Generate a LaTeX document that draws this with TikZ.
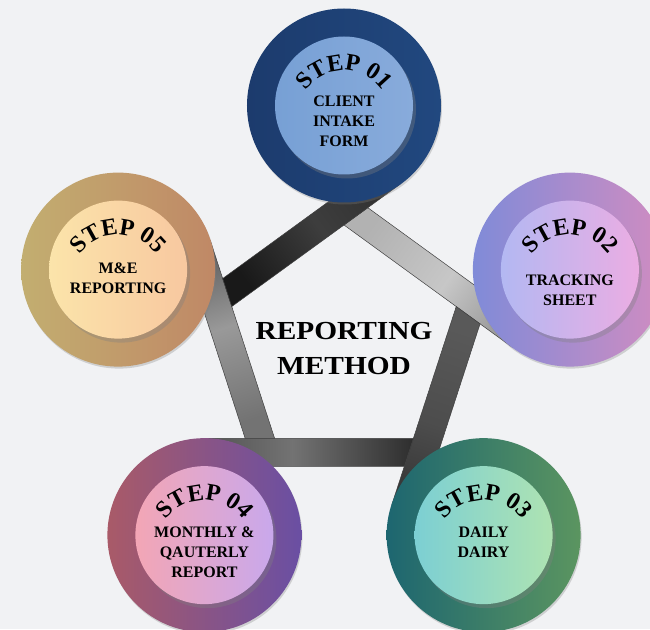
\documentclass[tikz,border=0pt]{standalone}
\usepackage{fontspec}
\setmainfont{Liberation Serif}
\newfontfamily\centerfont{Liberation Serif}[FakeStretch=1.13]
\usetikzlibrary{calc,shadows,decorations.text}

\definecolor{bgpaper}{HTML}{F1F2F4}
\definecolor{oneL}{HTML}{1C3B6D}\definecolor{oneR}{HTML}{21487F}
\definecolor{oneinL}{HTML}{77A0D5}\definecolor{oneinR}{HTML}{88ABDB}
\definecolor{twoL}{HTML}{808BD8}\definecolor{twoR}{HTML}{D18CC1}
\definecolor{twoinL}{HTML}{B3B8F2}\definecolor{twoinR}{HTML}{EBADE3}
\definecolor{threeL}{HTML}{1D6670}\definecolor{threeR}{HTML}{5B9560}
\definecolor{threeinL}{HTML}{7CCFD3}\definecolor{threeinR}{HTML}{AEE3B2}
\definecolor{fourL}{HTML}{A95A68}\definecolor{fourR}{HTML}{6A4FA3}
\definecolor{fourinL}{HTML}{F3A6B5}\definecolor{fourinR}{HTML}{C9A8EC}
\definecolor{fiveL}{HTML}{C2AE70}\definecolor{fiveR}{HTML}{C08866}
\definecolor{fiveinL}{HTML}{FBE4AA}\definecolor{fiveinR}{HTML}{F8C8A0}

\newcommand{\stepfont}{\bfseries\fontsize{24}{24}\selectfont}

\tikzset{%
  % Specifications for style of nodes:
         disc/.style = {circle, minimum size=194pt, inner sep=0pt, drop shadow={shadow xshift=1pt, shadow yshift=-2pt, opacity=0.3}},
         core/.style = {circle, minimum size=138pt, inner sep=0pt, drop shadow={shadow xshift=3pt, shadow yshift=-4pt, opacity=0.35}},
     tasktext/.style = {align=center, font=\bfseries\fontsize{16}{20}\selectfont},
         band/.style = {draw=black!75, line width=0.5pt},
}

\begin{document}
\begin{tikzpicture}[x=1pt, y=1pt]
    \fill[bgpaper] (-344,-286) rectangle (306,343);
    \useasboundingbox (-344,-286) rectangle (306,343);

    % Corners of the frame
    \foreach \k/\a in {1/90, 2/18, 3/-54, 4/-126, 5/162} {
        \coordinate (I\k) at (\a:118);
        \coordinate (O\k) at (\a:152.6);
    }

    % Draw bands
    \foreach \k/\n/\p/\ang/\ca/\cc/\cb in {1/2/5/54/black!30/black!45/black!22,
                                          2/3/1/-18/black!65/black!82/black!70,
                                          3/4/2/-90/black!82/black!72/black!55,
                                          4/5/3/-162/black!55/black!68/black!40,
                                          5/1/4/126/black!90/black!82/black!76} {
        \path[band, top color=\ca, bottom color=\cc, middle color=\cb, shading angle=\ang]
            (I\k) -- ($(I\p)!1.2122!(I\k)$) -- ($(O\k)!1.46!(O\n)$) -- ($(I\k)!1.5!(I\n)$) -- cycle;
    }

    % Draw nodes
    \node (c1) [disc, left color=oneL, right color=oneR]       at (90:237.5)   {};
    \node (c2) [disc, left color=twoL, right color=twoR]       at (18:237.5)   {};
    \node (c3) [disc, left color=threeL, right color=threeR]   at (-54:237.5)  {};
    \node (c4) [disc, left color=fourL, right color=fourR]     at (-126:237.5) {};
    \node (c5) [disc, left color=fiveL, right color=fiveR]     at (162:237.5)  {};

    \node (k1) [core, left color=oneinL, right color=oneinR]     at (c1) {};
    \node (k2) [core, left color=twoinL, right color=twoinR]     at (c2) {};
    \node (k3) [core, left color=threeinL, right color=threeinR] at (c3) {};
    \node (k4) [core, left color=fourinL, right color=fourinR]   at (c4) {};
    \node (k5) [core, left color=fiveinL, right color=fiveinR]   at (c5) {};

    \node (t1) [tasktext] at ([yshift=-16]k1) {CLIENT\\INTAKE\\FORM};
    \node (t2) [tasktext] at ([yshift=-21]k2) {TRACKING\\SHEET};
    \node (t3) [tasktext] at ([yshift=-7]k3)  {DAILY\\DAIRY};
    \node (t4) [tasktext] at ([yshift=-17]k4) {MONTHLY \&\\QAUTERLY\\REPORT};
    \node (t5) [tasktext] at ([yshift=-9]k5)  {M\&E\\REPORTING};

    % Step titles on arcs
    \foreach \k/\num in {1/01, 2/02, 3/03, 4/04, 5/05} {
        \coordinate (a\k) at ([yshift=-12]k\k);
        \path[decorate, decoration={text along path, text align=center, text={|\stepfont|STEP \num}}]
            ([shift={(165:47)}]a\k) arc[start angle=165, end angle=15, radius=47];
    }

    \node (title) [align=center, font=\centerfont\bfseries\fontsize{26}{35}\selectfont] at (0,-6) {REPORTING\\METHOD};
\end{tikzpicture}
\end{document}
